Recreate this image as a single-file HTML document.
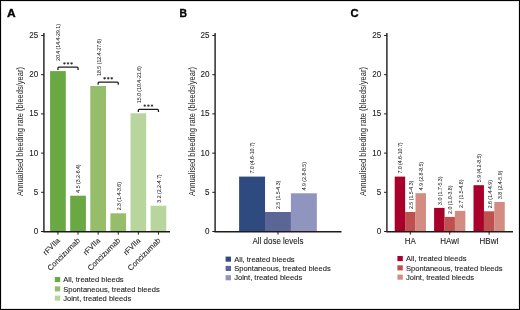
<!DOCTYPE html>
<html><head><meta charset="utf-8"><style>
html,body{margin:0;padding:0;background:#fff;}
.wrap{position:relative;width:520px;height:310px;overflow:hidden;background:#fff;}
.brd{position:absolute;left:0;top:0;width:518px;height:308px;border:1px solid #000;box-shadow:inset 0 0 0 1px rgba(0,0,0,0.1);}
svg{position:absolute;left:0;top:0;will-change:transform;}
svg text{font-family:"Liberation Sans", sans-serif;}
.t{fill:#1e1b1c;stroke:#1e1b1c;stroke-width:0.1px;}
.v{fill:#1e1b1c;stroke:#1e1b1c;stroke-width:0.03px;}
.t2{fill:#1e1b1c;}
</style></head><body><div class="wrap">
<svg width="520" height="310" viewBox="0 0 520 310">
<text transform="translate(7.1,16.5) scale(1.15,1)" font-size="10.4" font-weight="bold" fill="#000" stroke="#000" stroke-width="0.3">A</text>
<line x1="43.9" y1="33.1" x2="43.9" y2="231.6" stroke="#1e1b1c" stroke-width="1.4"/>
<line x1="41.10" y1="231.50" x2="43.90" y2="231.50" stroke="#1e1b1c" stroke-width="1"/>
<text transform="translate(38.30,233.90) scale(0.93,1)" font-size="8.7" text-anchor="end" class="t">0</text>
<line x1="41.10" y1="192.30" x2="43.90" y2="192.30" stroke="#1e1b1c" stroke-width="1"/>
<text transform="translate(38.30,194.70) scale(0.93,1)" font-size="8.7" text-anchor="end" class="t">5</text>
<line x1="41.10" y1="153.10" x2="43.90" y2="153.10" stroke="#1e1b1c" stroke-width="1"/>
<text transform="translate(38.30,155.50) scale(0.93,1)" font-size="8.7" text-anchor="end" class="t">10</text>
<line x1="41.10" y1="113.90" x2="43.90" y2="113.90" stroke="#1e1b1c" stroke-width="1"/>
<text transform="translate(38.30,116.30) scale(0.93,1)" font-size="8.7" text-anchor="end" class="t">15</text>
<line x1="41.10" y1="74.70" x2="43.90" y2="74.70" stroke="#1e1b1c" stroke-width="1"/>
<text transform="translate(38.30,77.10) scale(0.93,1)" font-size="8.7" text-anchor="end" class="t">20</text>
<line x1="41.10" y1="35.50" x2="43.90" y2="35.50" stroke="#1e1b1c" stroke-width="1"/>
<text transform="translate(38.30,37.90) scale(0.93,1)" font-size="8.7" text-anchor="end" class="t">25</text>
<text transform="translate(23.299999999999997,131.5) rotate(-90)" font-size="8.2" text-anchor="middle" class="t2" textLength="129" lengthAdjust="spacingAndGlyphs">Annualised bleeding rate (bleeds/year)</text>
<rect x="50.10" y="71.10" width="15.70" height="160.40" fill="#6aa843"/>
<line x1="57.95" y1="231.6" x2="57.95" y2="234.6" stroke="#1e1b1c" stroke-width="1"/>
<path d="M57.95 69.90 V68.10 Q57.95 67.20 58.85 67.20 H77.15 Q78.05 67.20 78.05 68.10 V69.90" fill="none" stroke="#1e1b1c" stroke-width="1.3"/>
<path d="M64.40 62.20 l0.4 0.75 l0.8 -0.15 l-0.55 0.6 l0.55 0.6 l-0.8 -0.15 l-0.4 0.75 l-0.4 -0.75 l-0.8 0.15 l0.55 -0.6 l-0.55 -0.6 l0.8 0.15 z" fill="#1e1b1c" stroke="#1e1b1c" stroke-width="0.3"/>
<path d="M68.00 62.20 l0.4 0.75 l0.8 -0.15 l-0.55 0.6 l0.55 0.6 l-0.8 -0.15 l-0.4 0.75 l-0.4 -0.75 l-0.8 0.15 l0.55 -0.6 l-0.55 -0.6 l0.8 0.15 z" fill="#1e1b1c" stroke="#1e1b1c" stroke-width="0.3"/>
<path d="M71.60 62.20 l0.4 0.75 l0.8 -0.15 l-0.55 0.6 l0.55 0.6 l-0.8 -0.15 l-0.4 0.75 l-0.4 -0.75 l-0.8 0.15 l0.55 -0.6 l-0.55 -0.6 l0.8 0.15 z" fill="#1e1b1c" stroke="#1e1b1c" stroke-width="0.3"/>
<text transform="translate(60.35,61.00) rotate(-90) scale(0.93,1)" font-size="5.6" class="v">20.4 (14.4-29.1)</text>
<rect x="70.20" y="195.70" width="15.70" height="35.80" fill="#6aa843"/>
<line x1="78.05" y1="231.6" x2="78.05" y2="234.6" stroke="#1e1b1c" stroke-width="1"/>
<text transform="translate(80.45,192.70) rotate(-90) scale(0.93,1)" font-size="5.6" class="v">4.5 (3.2-6.4)</text>
<rect x="90.30" y="86.00" width="15.70" height="145.50" fill="#95bd6a"/>
<line x1="98.15" y1="231.6" x2="98.15" y2="234.6" stroke="#1e1b1c" stroke-width="1"/>
<path d="M98.15 84.80 V83.00 Q98.15 82.10 99.05 82.10 H117.35 Q118.25 82.10 118.25 83.00 V84.80" fill="none" stroke="#1e1b1c" stroke-width="1.3"/>
<path d="M104.60 77.10 l0.4 0.75 l0.8 -0.15 l-0.55 0.6 l0.55 0.6 l-0.8 -0.15 l-0.4 0.75 l-0.4 -0.75 l-0.8 0.15 l0.55 -0.6 l-0.55 -0.6 l0.8 0.15 z" fill="#1e1b1c" stroke="#1e1b1c" stroke-width="0.3"/>
<path d="M108.20 77.10 l0.4 0.75 l0.8 -0.15 l-0.55 0.6 l0.55 0.6 l-0.8 -0.15 l-0.4 0.75 l-0.4 -0.75 l-0.8 0.15 l0.55 -0.6 l-0.55 -0.6 l0.8 0.15 z" fill="#1e1b1c" stroke="#1e1b1c" stroke-width="0.3"/>
<path d="M111.80 77.10 l0.4 0.75 l0.8 -0.15 l-0.55 0.6 l0.55 0.6 l-0.8 -0.15 l-0.4 0.75 l-0.4 -0.75 l-0.8 0.15 l0.55 -0.6 l-0.55 -0.6 l0.8 0.15 z" fill="#1e1b1c" stroke="#1e1b1c" stroke-width="0.3"/>
<text transform="translate(100.55,75.90) rotate(-90) scale(0.93,1)" font-size="5.6" class="v">18.5 (12.4-27.6)</text>
<rect x="110.40" y="213.30" width="15.70" height="18.20" fill="#95bd6a"/>
<line x1="118.25" y1="231.6" x2="118.25" y2="234.6" stroke="#1e1b1c" stroke-width="1"/>
<text transform="translate(120.65,210.30) rotate(-90) scale(0.93,1)" font-size="5.6" class="v">2.3 (1.4-3.6)</text>
<rect x="130.50" y="113.30" width="15.70" height="118.20" fill="#b9d59e"/>
<line x1="138.35" y1="231.6" x2="138.35" y2="234.6" stroke="#1e1b1c" stroke-width="1"/>
<path d="M138.35 112.10 V110.30 Q138.35 109.40 139.25 109.40 H157.55 Q158.45 109.40 158.45 110.30 V112.10" fill="none" stroke="#1e1b1c" stroke-width="1.3"/>
<path d="M144.80 104.40 l0.4 0.75 l0.8 -0.15 l-0.55 0.6 l0.55 0.6 l-0.8 -0.15 l-0.4 0.75 l-0.4 -0.75 l-0.8 0.15 l0.55 -0.6 l-0.55 -0.6 l0.8 0.15 z" fill="#1e1b1c" stroke="#1e1b1c" stroke-width="0.3"/>
<path d="M148.40 104.40 l0.4 0.75 l0.8 -0.15 l-0.55 0.6 l0.55 0.6 l-0.8 -0.15 l-0.4 0.75 l-0.4 -0.75 l-0.8 0.15 l0.55 -0.6 l-0.55 -0.6 l0.8 0.15 z" fill="#1e1b1c" stroke="#1e1b1c" stroke-width="0.3"/>
<path d="M152.00 104.40 l0.4 0.75 l0.8 -0.15 l-0.55 0.6 l0.55 0.6 l-0.8 -0.15 l-0.4 0.75 l-0.4 -0.75 l-0.8 0.15 l0.55 -0.6 l-0.55 -0.6 l0.8 0.15 z" fill="#1e1b1c" stroke="#1e1b1c" stroke-width="0.3"/>
<text transform="translate(140.75,103.20) rotate(-90) scale(0.93,1)" font-size="5.6" class="v">15.0 (10.4-21.6)</text>
<rect x="150.60" y="205.70" width="15.70" height="25.80" fill="#b9d59e"/>
<line x1="158.45" y1="231.6" x2="158.45" y2="234.6" stroke="#1e1b1c" stroke-width="1"/>
<text transform="translate(160.85,202.70) rotate(-90) scale(0.93,1)" font-size="5.6" class="v">3.2 (2.2-4.7)</text>
<text transform="translate(60.55,241.0) rotate(-45)" font-size="7.5" text-anchor="end" class="t">rFVIIa</text>
<text transform="translate(80.65,241.0) rotate(-45)" font-size="7.7" text-anchor="end" class="t">Concizumab</text>
<text transform="translate(100.75,241.0) rotate(-45)" font-size="7.5" text-anchor="end" class="t">rFVIIa</text>
<text transform="translate(120.85,241.0) rotate(-45)" font-size="7.7" text-anchor="end" class="t">Concizumab</text>
<text transform="translate(140.95,241.0) rotate(-45)" font-size="7.5" text-anchor="end" class="t">rFVIIa</text>
<text transform="translate(161.05,241.0) rotate(-45)" font-size="7.7" text-anchor="end" class="t">Concizumab</text>
<rect x="54.8" y="277.00" width="5.4" height="5.1" fill="#6aa843"/>
<text x="63.20" y="282.20" font-size="7.55" class="t">All, treated bleeds</text>
<rect x="54.8" y="286.30" width="5.4" height="5.1" fill="#95bd6a"/>
<text x="63.20" y="291.50" font-size="7.55" class="t">Spontaneous, treated bleeds</text>
<rect x="54.8" y="295.60" width="5.4" height="5.1" fill="#b9d59e"/>
<text x="63.20" y="300.80" font-size="7.55" class="t">Joint, treated bleeds</text>
<text transform="translate(179.4,16.5) scale(1.0,1)" font-size="10.4" font-weight="bold" fill="#000" stroke="#000" stroke-width="0.3">B</text>
<line x1="215.1" y1="33.1" x2="215.1" y2="231.6" stroke="#1e1b1c" stroke-width="1.4"/>
<line x1="212.30" y1="231.50" x2="215.10" y2="231.50" stroke="#1e1b1c" stroke-width="1"/>
<text transform="translate(209.50,233.90) scale(0.93,1)" font-size="8.7" text-anchor="end" class="t">0</text>
<line x1="212.30" y1="192.30" x2="215.10" y2="192.30" stroke="#1e1b1c" stroke-width="1"/>
<text transform="translate(209.50,194.70) scale(0.93,1)" font-size="8.7" text-anchor="end" class="t">5</text>
<line x1="212.30" y1="153.10" x2="215.10" y2="153.10" stroke="#1e1b1c" stroke-width="1"/>
<text transform="translate(209.50,155.50) scale(0.93,1)" font-size="8.7" text-anchor="end" class="t">10</text>
<line x1="212.30" y1="113.90" x2="215.10" y2="113.90" stroke="#1e1b1c" stroke-width="1"/>
<text transform="translate(209.50,116.30) scale(0.93,1)" font-size="8.7" text-anchor="end" class="t">15</text>
<line x1="212.30" y1="74.70" x2="215.10" y2="74.70" stroke="#1e1b1c" stroke-width="1"/>
<text transform="translate(209.50,77.10) scale(0.93,1)" font-size="8.7" text-anchor="end" class="t">20</text>
<line x1="212.30" y1="35.50" x2="215.10" y2="35.50" stroke="#1e1b1c" stroke-width="1"/>
<text transform="translate(209.50,37.90) scale(0.93,1)" font-size="8.7" text-anchor="end" class="t">25</text>
<text transform="translate(194.5,131.5) rotate(-90)" font-size="8.2" text-anchor="middle" class="t2" textLength="129" lengthAdjust="spacingAndGlyphs">Annualised bleeding rate (bleeds/year)</text>
<rect x="239.10" y="176.60" width="25.95" height="54.90" fill="#2f4a7e"/>
<text transform="translate(254.45,173.60) rotate(-90) scale(0.93,1)" font-size="5.6" class="v">7.0 (4.6-10.7)</text>
<rect x="265.00" y="212.00" width="25.95" height="19.50" fill="#5b6697"/>
<text transform="translate(280.35,209.00) rotate(-90) scale(0.93,1)" font-size="5.6" class="v">2.5 (1.5-4.3)</text>
<rect x="290.90" y="193.30" width="25.95" height="38.20" fill="#8f95bf"/>
<text transform="translate(306.25,190.30) rotate(-90) scale(0.93,1)" font-size="5.6" class="v">4.9 (2.8-8.5)</text>
<line x1="278.00" y1="231.6" x2="278.00" y2="234.6" stroke="#1e1b1c" stroke-width="1"/>
<text transform="translate(278,243.9) scale(0.95,1)" font-size="8.4" text-anchor="middle" class="t">All dose levels</text>
<rect x="225.6" y="256.60" width="5.4" height="5.1" fill="#2f4a7e"/>
<text x="234.20" y="261.80" font-size="7.55" class="t">All, treated bleeds</text>
<rect x="225.6" y="265.90" width="5.4" height="5.1" fill="#5b6697"/>
<text x="234.20" y="271.10" font-size="7.55" class="t">Spontaneous, treated bleeds</text>
<rect x="225.6" y="275.20" width="5.4" height="5.1" fill="#8f95bf"/>
<text x="234.20" y="280.40" font-size="7.55" class="t">Joint, treated bleeds</text>
<text transform="translate(350.4,16.5) scale(1.08,1)" font-size="10.4" font-weight="bold" fill="#000" stroke="#000" stroke-width="0.3">C</text>
<line x1="386.9" y1="33.1" x2="386.9" y2="231.6" stroke="#1e1b1c" stroke-width="1.4"/>
<line x1="384.10" y1="231.50" x2="386.90" y2="231.50" stroke="#1e1b1c" stroke-width="1"/>
<text transform="translate(381.30,233.90) scale(0.93,1)" font-size="8.7" text-anchor="end" class="t">0</text>
<line x1="384.10" y1="192.30" x2="386.90" y2="192.30" stroke="#1e1b1c" stroke-width="1"/>
<text transform="translate(381.30,194.70) scale(0.93,1)" font-size="8.7" text-anchor="end" class="t">5</text>
<line x1="384.10" y1="153.10" x2="386.90" y2="153.10" stroke="#1e1b1c" stroke-width="1"/>
<text transform="translate(381.30,155.50) scale(0.93,1)" font-size="8.7" text-anchor="end" class="t">10</text>
<line x1="384.10" y1="113.90" x2="386.90" y2="113.90" stroke="#1e1b1c" stroke-width="1"/>
<text transform="translate(381.30,116.30) scale(0.93,1)" font-size="8.7" text-anchor="end" class="t">15</text>
<line x1="384.10" y1="74.70" x2="386.90" y2="74.70" stroke="#1e1b1c" stroke-width="1"/>
<text transform="translate(381.30,77.10) scale(0.93,1)" font-size="8.7" text-anchor="end" class="t">20</text>
<line x1="384.10" y1="35.50" x2="386.90" y2="35.50" stroke="#1e1b1c" stroke-width="1"/>
<text transform="translate(381.30,37.90) scale(0.93,1)" font-size="8.7" text-anchor="end" class="t">25</text>
<text transform="translate(366.29999999999995,131.5) rotate(-90)" font-size="8.2" text-anchor="middle" class="t2" textLength="129" lengthAdjust="spacingAndGlyphs">Annualised bleeding rate (bleeds/year)</text>
<rect x="394.70" y="176.60" width="10.45" height="54.90" fill="#a8002a"/>
<text transform="translate(402.30,173.60) rotate(-90) scale(0.93,1)" font-size="5.6" class="v">7.0 (4.6-10.7)</text>
<rect x="405.10" y="212.00" width="10.45" height="19.50" fill="#c0504f"/>
<text transform="translate(412.70,209.00) rotate(-90) scale(0.93,1)" font-size="5.6" class="v">2.5 (1.5-4.3)</text>
<rect x="415.50" y="193.20" width="10.45" height="38.30" fill="#d48c82"/>
<text transform="translate(423.10,190.20) rotate(-90) scale(0.93,1)" font-size="5.6" class="v">4.9 (2.8-8.5)</text>
<line x1="410.30" y1="231.6" x2="410.30" y2="234.6" stroke="#1e1b1c" stroke-width="1"/>
<text transform="translate(410.30,243.9) scale(0.95,1)" font-size="8.4" text-anchor="middle" class="t">HA</text>
<rect x="434.10" y="207.90" width="10.45" height="23.60" fill="#a8002a"/>
<text transform="translate(441.70,204.90) rotate(-90) scale(0.93,1)" font-size="5.6" class="v">3.0 (1.7-5.3)</text>
<rect x="444.50" y="216.90" width="10.45" height="14.60" fill="#c0504f"/>
<text transform="translate(452.10,213.90) rotate(-90) scale(0.93,1)" font-size="5.6" class="v">2.0 (1.0-3.8)</text>
<rect x="454.90" y="210.90" width="10.45" height="20.60" fill="#d48c82"/>
<text transform="translate(462.50,207.90) rotate(-90) scale(0.93,1)" font-size="5.6" class="v">2.7 (1.5-4.8)</text>
<line x1="449.70" y1="231.6" x2="449.70" y2="234.6" stroke="#1e1b1c" stroke-width="1"/>
<text transform="translate(449.70,243.9) scale(0.95,1)" font-size="8.4" text-anchor="middle" class="t">HAwI</text>
<rect x="473.50" y="185.20" width="10.45" height="46.30" fill="#a8002a"/>
<text transform="translate(481.10,182.20) rotate(-90) scale(0.93,1)" font-size="5.6" class="v">5.9 (4.2-8.5)</text>
<rect x="483.90" y="211.30" width="10.45" height="20.20" fill="#c0504f"/>
<text transform="translate(491.50,208.30) rotate(-90) scale(0.93,1)" font-size="5.6" class="v">2.6 (1.4-4.9)</text>
<rect x="494.30" y="202.00" width="10.45" height="29.50" fill="#d48c82"/>
<text transform="translate(501.90,199.00) rotate(-90) scale(0.93,1)" font-size="5.6" class="v">3.8 (2.4-5.9)</text>
<line x1="489.10" y1="231.6" x2="489.10" y2="234.6" stroke="#1e1b1c" stroke-width="1"/>
<text transform="translate(489.10,243.9) scale(0.95,1)" font-size="8.4" text-anchor="middle" class="t">HBwI</text>
<rect x="397.4" y="256.00" width="5.4" height="5.1" fill="#a8002a"/>
<text x="406.00" y="261.20" font-size="7.55" class="t">All, treated bleeds</text>
<rect x="397.4" y="265.30" width="5.4" height="5.1" fill="#c0504f"/>
<text x="406.00" y="270.50" font-size="7.55" class="t">Spontaneous, treated bleeds</text>
<rect x="397.4" y="274.60" width="5.4" height="5.1" fill="#d48c82"/>
<text x="406.00" y="279.80" font-size="7.55" class="t">Joint, treated bleeds</text>
<line x1="43.199999999999996" y1="231.75" x2="170" y2="231.75" stroke="#1e1b1c" stroke-width="1.3"/>
<line x1="214.4" y1="231.75" x2="341.5" y2="231.75" stroke="#1e1b1c" stroke-width="1.3"/>
<line x1="386.2" y1="231.75" x2="513" y2="231.75" stroke="#1e1b1c" stroke-width="1.3"/>
</svg>
<div class="brd"></div>
</div></body></html>
